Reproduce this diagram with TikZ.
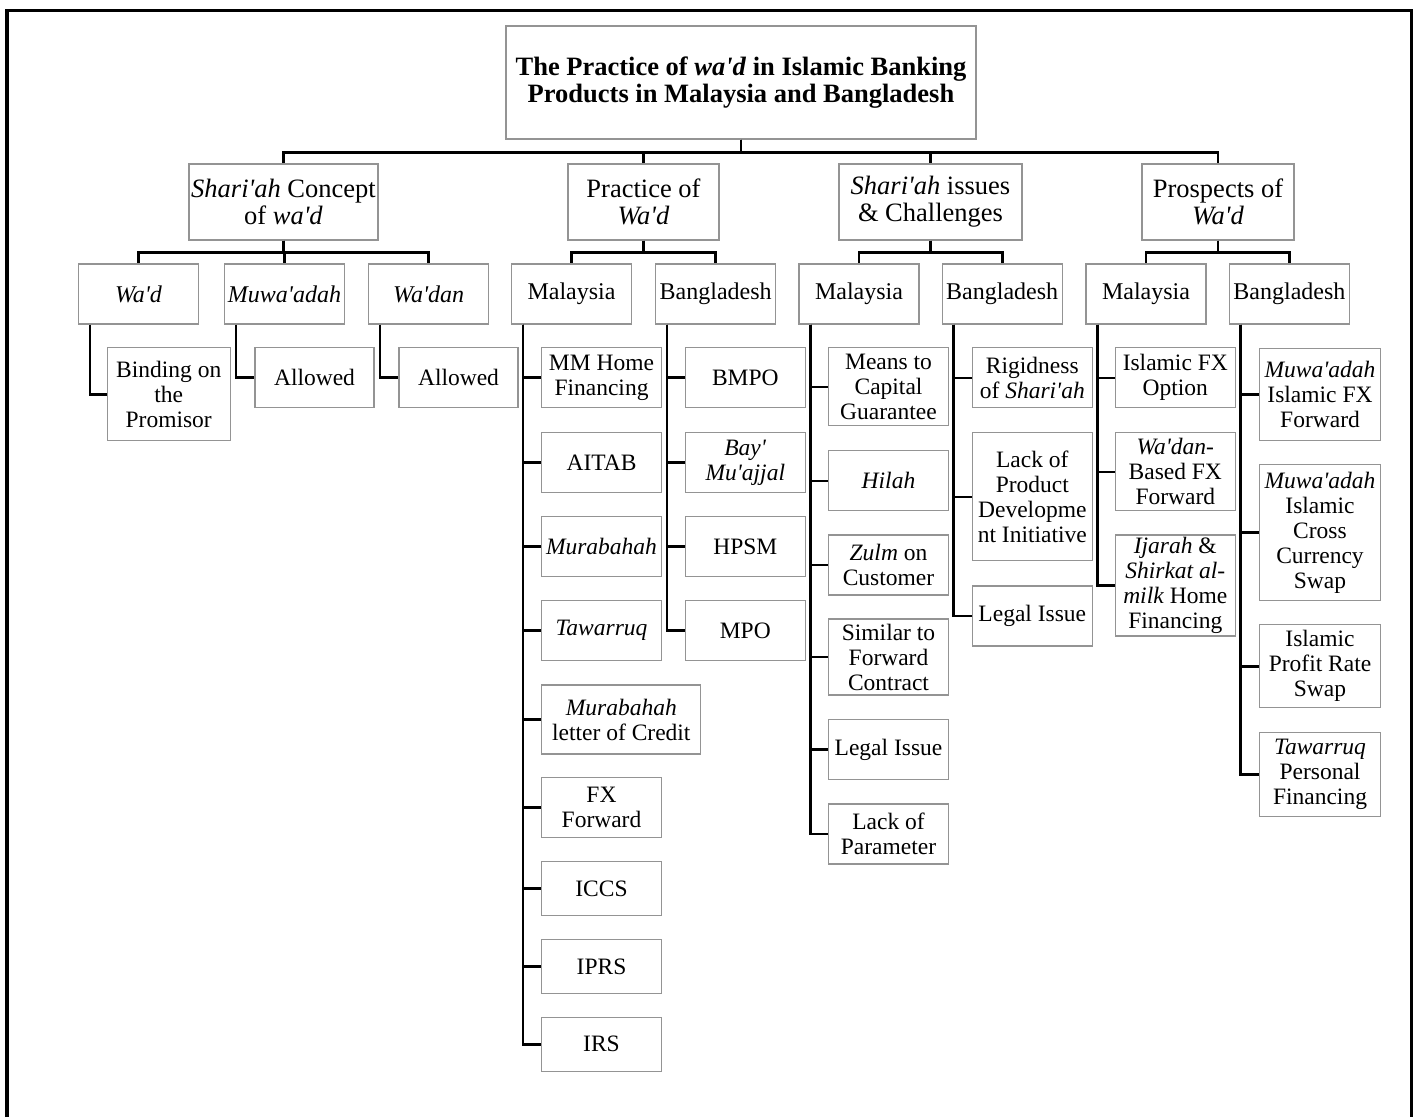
\documentclass[tikz,border=0pt]{standalone}
\usepackage{fontspec}
\setmainfont{Liberation Serif}[Ligatures=TeXOff]
\begin{document}
\begin{tikzpicture}[x=1pt,y=-1pt,
  box/.style={draw=black!42, line width=1.3pt, rectangle, inner sep=0pt,
    align=center, font=\fontsize{23.5}{25}\selectfont},
  lone/.style={box, minimum width=189pt, minimum height=76pt,
    font=\fontsize{26.5}{27}\selectfont},
  ltwo/.style={box, minimum width=120pt, minimum height=60pt},
  head/.style={ltwo, font=\fontsize{24}{25}\selectfont},
  conn/.style={draw=black, line width=2.6pt},
  trunk/.style={conn}]
\useasboundingbox (0,0) rectangle (1418,1117);
% outer frame, open at the bottom edge
\draw[line width=3.5pt] (7,1117) -- (7,10.7) -- (1411.5,10.7) -- (1411.5,1117);

% root
\node[box, minimum width=470pt, minimum height=113pt,
      font=\fontsize{26.5}{27}\selectfont\bfseries] (title) at (741,82.5)
  {The Practice of \textit{wa'd} in Islamic Banking\\Products in Malaysia and Bangladesh};

% first level
\node[lone, minimum width=189pt] (sc) at (283.5,202) {\textit{Shari'ah} Concept\\of \textit{wa'd}};
\node[lone, minimum width=151pt] (pw) at (643.5,202) {Practice of\\\textit{Wa'd}};
\node[lone, minimum width=183pt] (si) at (930.5,202) {\textit{Shari'ah} issues\\\& Challenges};
\node[lone, minimum width=152pt] (pr) at (1218,202) {Prospects of\\\textit{Wa'd}};

% second level
\node[head] (wad)   at (138.5,294) {\textit{Wa'd}};
\node[head] (muw)   at (284.5,294) {\textit{Muwa'adah}};
\node[head] (wadan) at (428.7,294) {\textit{Wa'dan}};
\node[head] (pm) at (571.5,294) {Malaysia};
\node[head] (pb) at (715.7,294) {Bangladesh};
\node[head] (sm) at (859,294) {Malaysia};
\node[head] (sb) at (1002.2,294) {Bangladesh};
\node[head] (rm) at (1146,294) {Malaysia};
\node[head] (rb) at (1289.4,294) {Bangladesh};

% concept leaves
\node[box, minimum width=123pt, minimum height=93pt] (bind) at (168.7,394.2) {Binding on\\the\\Promisor};
\node[box, minimum width=119pt, minimum height=60pt] (alw1) at (314.5,377.5) {Allowed};
\node[box, minimum width=119pt, minimum height=60pt] (alw2) at (458.5,377.5) {Allowed};

% practice: Malaysia
\node[ltwo] (mm)    at (601.5,377.5) {MM Home\\Financing};
\node[ltwo] (aitab) at (601.5,462.7) {AITAB};
\node[ltwo] (murab) at (601.5,546.7) {\textit{Murabahah}};
\node[ltwo] (tawar) at (601.5,630.7) {\textit{Tawarruq}};
\node[box, minimum width=159pt, minimum height=69pt] (mlc) at (621.3,719.5) {\textit{Murabahah}\\letter of Credit};
\node[ltwo] (fxf)   at (601.5,807.7) {FX\\Forward};
\node[ltwo, minimum height=54pt] (iccs)  at (601.5,888.7) {ICCS};
\node[ltwo, minimum height=54pt] (iprs)  at (601.5,966.7) {IPRS};
\node[ltwo, minimum height=54pt] (irs)   at (601.5,1044.3) {IRS};

% practice: Bangladesh
\node[ltwo] (bmpo) at (745.3,377.5) {BMPO};
\node[ltwo] (bay)  at (745.3,462.7) {\textit{Bay'}\\\textit{Mu'ajjal}};
\node[ltwo] (hpsm) at (745.3,546.7) {HPSM};
\node[ltwo] (mpo)  at (745.3,630.7) {MPO};

% issues: Malaysia
\node[ltwo, minimum height=78pt] (means) at (888.5,386.8) {Means to\\Capital\\Guarantee};
\node[ltwo] (hilah) at (888.5,480.8) {\textit{Hilah}};
\node[ltwo] (zulm)  at (888.5,565) {\textit{Zulm} on\\Customer};
\node[ltwo, minimum height=76pt] (simil) at (888.5,657) {Similar to\\Forward\\Contract};
\node[ltwo] (legal1) at (888.5,749.7) {Legal Issue};
\node[ltwo] (lackp)  at (888.5,834) {Lack of\\Parameter};

% issues: Bangladesh
\node[ltwo] (rigid) at (1032.3,377.8) {Rigidness\\of \textit{Shari'ah}};
\node[ltwo, minimum height=128pt] (lackpd) at (1032.3,496.8) {Lack of\\Product\\Developme\\nt Initiative};
\node[ltwo] (legal2) at (1032.3,616) {Legal Issue};

% prospects: Malaysia
\node[ltwo] (fxopt) at (1175.3,377.8) {Islamic FX\\Option};
\node[ltwo, minimum height=78pt] (wdfx) at (1175.3,471.8) {\textit{Wa'dan-}\\Based FX\\Forward};
\node[ltwo, minimum height=101pt] (ijar) at (1175.3,585.5) {\textit{Ijarah} \&\\\textit{Shirkat al-}\\\textit{milk} Home\\Financing};

% prospects: Bangladesh
\node[ltwo, minimum width=121pt, minimum height=92pt] (mfx) at (1320,394.2) {\textit{Muwa'adah}\\Islamic FX\\Forward};
\node[ltwo, minimum width=121pt, minimum height=136pt] (mccs) at (1320,532.5) {\textit{Muwa'adah}\\Islamic\\Cross\\Currency\\Swap};
\node[ltwo, minimum width=121pt, minimum height=83pt] (iprs2) at (1320,666.3) {Islamic\\Profit Rate\\Swap};
\node[ltwo, minimum width=121pt, minimum height=84pt] (tpf) at (1320,774.7) {\textit{Tawarruq}\\Personal\\Financing};

% root to first level
\foreach \c in {sc,pw,si,pr}
  \draw[conn] (title.south) -- ++(0,13) -| (\c.north);

% first to second level
\foreach \p/\c in {sc/wad,sc/muw,sc/wadan,pw/pm,pw/pb,si/sm,si/sb,pr/rm,pr/rb}
  \draw[conn] (\p.south) -- ++(0,12) -| (\c.north);

% trunks to leaves
\foreach \p/\c in {wad/bind,muw/alw1,wadan/alw2,
    pm/mm,pm/aitab,pm/murab,pm/tawar,pm/mlc,pm/fxf,pm/iccs,pm/iprs,pm/irs,
    pb/bmpo,pb/bay,pb/hpsm,pb/mpo,
    sm/means,sm/hilah,sm/zulm,sm/simil,sm/legal1,sm/lackp,
    sb/rigid,sb/lackpd,sb/legal2,
    rm/fxopt,rm/wdfx,rm/ijar,
    rb/mfx,rb/mccs,rb/iprs2,rb/tpf}
  \draw[trunk] ([xshift=12pt]\p.south west) |- (\c.west);
\end{tikzpicture}
\end{document}
